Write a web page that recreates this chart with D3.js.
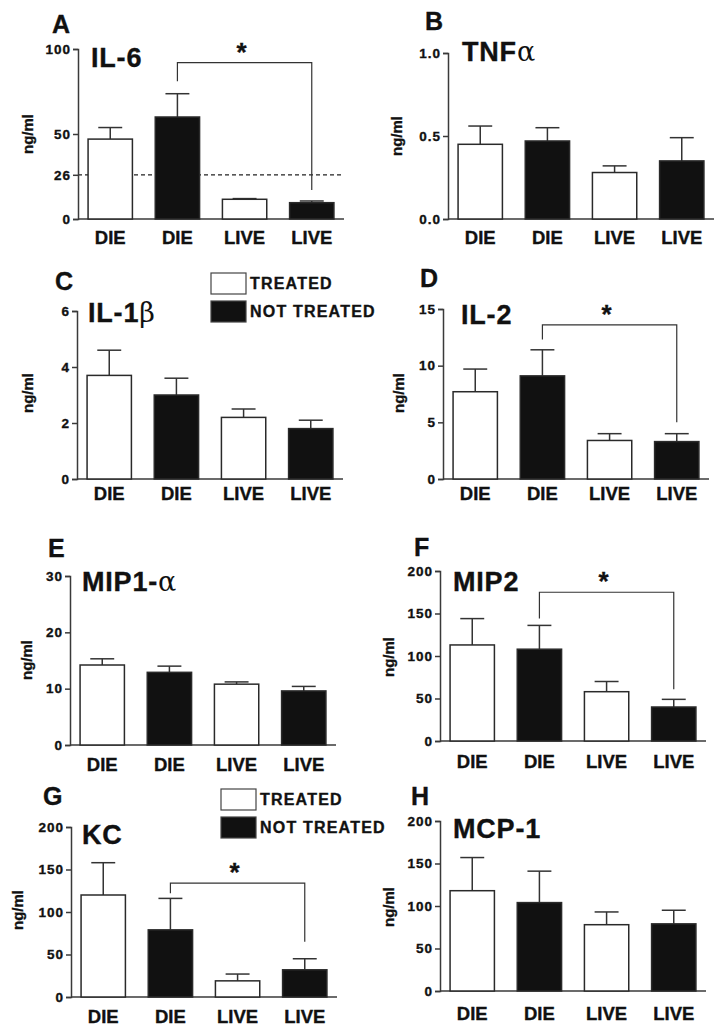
<!DOCTYPE html>
<html>
<head>
<meta charset="utf-8">
<script src="https://cdn.jsdelivr.net/npm/d3@7"></script>
<style>
  body { margin: 0; background: #fff; }
  text { font-family: "Liberation Sans", Arial, sans-serif; font-weight: bold; fill: #111; stroke: #111; stroke-width: 0.35px; }
</style>
</head>
<body>
<div id="chart"></div>
<script>
// groups along the x axis
var categories = ["DIE", "DIE", "LIVE", "LIVE"];
var groups = ["TREATED", "NOT TREATED", "TREATED", "NOT TREATED"];
var legendLabels = ["TREATED", "NOT TREATED"];

// means and SEM, ng/ml
var il6Mean = [47, 60, 11.6, 9.6];
var il6Sem = [6.8, 13.7, 0.4, 1.0];
var tnfMean = [0.45, 0.47, 0.28, 0.35];
var tnfSem = [0.11, 0.08, 0.04, 0.14];
var il1bMean = [3.7, 3.0, 2.2, 1.8];
var il1bSem = [0.9, 0.6, 0.3, 0.3];
var il2Mean = [7.7, 9.1, 3.4, 3.3];
var il2Sem = [2.0, 2.3, 0.6, 0.7];
var mip1aMean = [14.2, 12.9, 10.8, 9.6];
var mip1aSem = [1.1, 1.1, 0.4, 0.8];
var mip2Mean = [113, 108, 58, 40];
var mip2Sem = [31, 28, 12, 9];
var kcMean = [120, 79, 19, 32];
var kcSem = [38, 37, 8, 13];
var mcp1Mean = [118, 104, 78, 79];
var mcp1Sem = [39, 37, 15, 16];

// y ticks
var il6Ticks = [0, 26, 50, 100];
var tnfTicks = [0, 0.5, 1.0];
var il1bTicks = [0, 2, 4, 6];
var il2Ticks = [0, 5, 10, 15];
var mip1aTicks = [0, 10, 20, 30];
var mip2Ticks = [0, 50, 100, 150, 200];
var kcTicks = [0, 50, 100, 150, 200];
var mcp1Ticks = [0, 50, 100, 150, 200];

var il6Cutoff = 26;

// significance brackets: [bracket level, left leg end, right leg end]
var il6Sig = [92, 81, 17];
var il2Sig = [13.6, 12.3, 5.0];
var mip2Sig = [175, 144, 61];
var kcSig = [134, 122, 65];

var panels = [
  { letter: "A", title: ["IL-6", ""], mean: il6Mean, sem: il6Sem, ticks: il6Ticks, fmt: "d", sig: il6Sig, cutoff: il6Cutoff,
    x: 78, top: 49, bottom: 219, letterPos: [52, 33], titlePos: [91, 67], labelPos: [28, 134], xlab: 244 },
  { letter: "B", title: ["TNF", "\u03b1"], mean: tnfMean, sem: tnfSem, ticks: tnfTicks, fmt: ".1f",
    x: 448, top: 53, bottom: 219, letterPos: [425, 30], titlePos: [462, 61], labelPos: [397, 136], xlab: 244 },
  { letter: "C", title: ["IL-1", "\u03b2"], mean: il1bMean, sem: il1bSem, ticks: il1bTicks, fmt: "d", legend: [211, 273],
    x: 77, top: 311, bottom: 479, letterPos: [55, 290], titlePos: [88, 322], labelPos: [28, 393], xlab: 500 },
  { letter: "D", title: ["IL-2", ""], mean: il2Mean, sem: il2Sem, ticks: il2Ticks, fmt: "d", sig: il2Sig,
    x: 443, top: 309, bottom: 479, letterPos: [420, 287], titlePos: [461, 324], labelPos: [399, 393], xlab: 500 },
  { letter: "E", title: ["MIP1-", "\u03b1"], mean: mip1aMean, sem: mip1aSem, ticks: mip1aTicks, fmt: "d",
    x: 70, top: 576, bottom: 745, letterPos: [48, 557], titlePos: [82, 591], labelPos: [27, 660], xlab: 771 },
  { letter: "F", title: ["MIP2", ""], mean: mip2Mean, sem: mip2Sem, ticks: mip2Ticks, fmt: "d", sig: mip2Sig,
    x: 440, top: 571, bottom: 741, letterPos: [414, 556], titlePos: [453, 591], labelPos: [389, 657], xlab: 768 },
  { letter: "G", title: ["KC", ""], mean: kcMean, sem: kcSem, ticks: kcTicks, fmt: "d", sig: kcSig, legend: [221, 789],
    x: 71, top: 827, bottom: 997, letterPos: [43, 805], titlePos: [82, 844], labelPos: [18, 910], xlab: 1023 },
  { letter: "H", title: ["MCP-1", ""], mean: mcp1Mean, sem: mcp1Sem, ticks: mcp1Ticks, fmt: "d",
    x: 440, top: 821, bottom: 991, letterPos: [411, 805], titlePos: [453, 838], labelPos: [389, 907], xlab: 1020 }
];

var plotWidth = 266;
var axisColor = "#3a3a3a";

var svg = d3.select("#chart")
  .append("svg")
  .attr("width", 724)
  .attr("height", 1030);

panels.forEach(function (p) {
  var g = svg.append("g");

  var x = d3.scaleBand()
    .domain(d3.range(categories.length))
    .range([p.x, p.x + plotWidth])
    .paddingInner(0.34)
    .paddingOuter(0.15);

  var y = d3.scaleLinear()
    .domain([0, d3.max(p.ticks)])
    .range([p.bottom, p.top]);

  // dashed cutoff line goes under the bars
  if (p.cutoff !== undefined) {
    g.append("line")
      .attr("x1", p.x).attr("x2", p.x + plotWidth)
      .attr("y1", y(p.cutoff)).attr("y2", y(p.cutoff))
      .attr("stroke", "#222").attr("stroke-width", 1.2)
      .attr("stroke-dasharray", "4,3");
  }

  // y axis
  var yAxis = g.append("g")
    .attr("transform", "translate(" + p.x + ",0)")
    .call(d3.axisLeft(y).tickValues(p.ticks).tickFormat(d3.format(p.fmt)).tickSize(5).tickPadding(2));
  yAxis.select(".domain").attr("stroke", axisColor).attr("stroke-width", 1.5);
  yAxis.selectAll(".tick line").attr("stroke", axisColor).attr("stroke-width", 1.5);
  yAxis.selectAll(".tick text")
    .attr("fill", "#111")
    .style("font-size", "13.5px")
    .style("letter-spacing", "1px")
    .style("font-family", "'Liberation Sans', Arial, sans-serif")
    .style("font-weight", "bold");

  // x axis line
  g.append("line")
    .attr("x1", p.x).attr("x2", p.x + plotWidth)
    .attr("y1", p.bottom).attr("y2", p.bottom)
    .attr("stroke", axisColor).attr("stroke-width", 1.5);

  // error bars (upper only)
  var cap = x.bandwidth() * 0.27;
  p.mean.forEach(function (m, i) {
    var cx = x(i) + x.bandwidth() / 2;
    g.append("line")
      .attr("x1", cx).attr("x2", cx)
      .attr("y1", y(m)).attr("y2", y(m + p.sem[i]))
      .attr("stroke", "#333").attr("stroke-width", 1.5);
    g.append("line")
      .attr("x1", cx - cap).attr("x2", cx + cap)
      .attr("y1", y(m + p.sem[i])).attr("y2", y(m + p.sem[i]))
      .attr("stroke", "#333").attr("stroke-width", 1.5);
  });

  // bars
  g.selectAll("rect.bar")
    .data(p.mean)
    .enter().append("rect")
    .attr("class", "bar")
    .attr("x", function (d, i) { return x(i); })
    .attr("y", function (d) { return y(d); })
    .attr("width", x.bandwidth())
    .attr("height", function (d) { return p.bottom - y(d); })
    .attr("fill", function (d, i) { return groups[i] === "TREATED" ? "#fff" : "#111"; })
    .attr("stroke", "#2a2a2a")
    .attr("stroke-width", 1.5);

  // x labels
  g.selectAll("text.xlab")
    .data(categories)
    .enter().append("text")
    .attr("class", "xlab")
    .attr("x", function (d, i) { return x(i) + x.bandwidth() / 2; })
    .attr("y", p.xlab)
    .attr("text-anchor", "middle")
    .style("font-size", "18.5px")
    .text(function (d) { return d; });

  // y label
  g.append("text")
    .attr("transform", "translate(" + p.labelPos[0] + "," + p.labelPos[1] + ") rotate(-90)")
    .attr("text-anchor", "middle")
    .attr("dy", "0.35em")
    .style("font-size", "15px")
    .text("ng/ml");

  // panel letter
  g.append("text")
    .attr("x", p.letterPos[0]).attr("y", p.letterPos[1])
    .style("font-size", "25px")
    .text(p.letter);

  // title
  var t = g.append("text")
    .attr("x", p.titlePos[0]).attr("y", p.titlePos[1])
    .style("font-size", "27px")
    .style("letter-spacing", "0.8px");
  t.append("tspan").text(p.title[0]);
  if (p.title[1]) {
    t.append("tspan")
      .style("font-weight", "normal")
      .style("stroke-width", "0")
      .style("font-family", "'DejaVu Serif', serif")
      .text(p.title[1]);
  }

  // significance bracket
  if (p.sig) {
    var xl = x(1) + x.bandwidth() / 2,
      xr = x(3) + x.bandwidth() / 2;
    g.append("path")
      .attr("d", "M" + xl + "," + y(p.sig[1]) + "V" + y(p.sig[0]) + "H" + xr + "V" + y(p.sig[2]))
      .attr("fill", "none")
      .attr("stroke", "#333")
      .attr("stroke-width", 1.2);
    g.append("text")
      .attr("x", (xl + xr) / 2 - 3)
      .attr("y", y(p.sig[0]) - 2)
      .attr("text-anchor", "middle")
      .style("font-size", "26px")
      .text("*");
  }

  // legend
  if (p.legend) {
    legendLabels.forEach(function (lab, i) {
      var ly = p.legend[1] + i * 28;
      g.append("rect")
        .attr("x", p.legend[0]).attr("y", ly)
        .attr("width", 35).attr("height", 21)
        .attr("fill", i === 0 ? "#fff" : "#111")
        .attr("stroke", "#444").attr("stroke-width", 1.2);
      g.append("text")
        .attr("x", p.legend[0] + 39).attr("y", ly + 16)
        .style("font-size", "16px")
        .style("letter-spacing", "1.2px")
        .text(lab);
    });
  }
});
</script>
</body>
</html>
